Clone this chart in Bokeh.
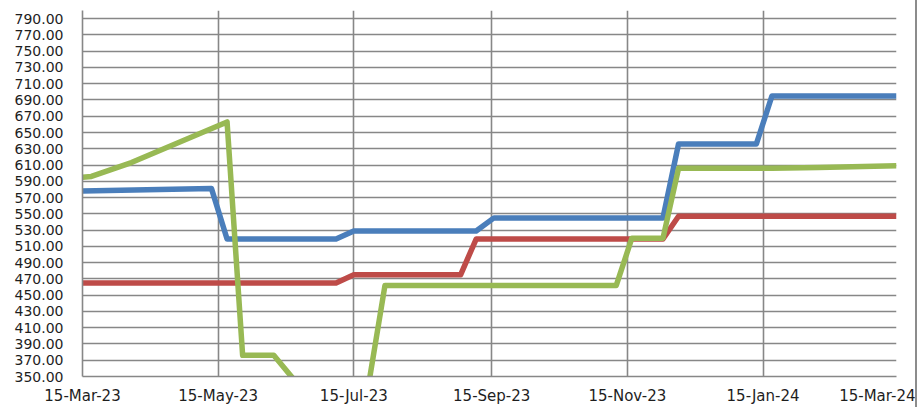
import calendar
import datetime as dt
from bokeh.plotting import figure
from bokeh.models import FixedTicker, PrintfTickFormatter, DatetimeTickFormatter, Range1d
from bokeh.embed import file_html
from bokeh.resources import INLINE

def d(s):
    return dt.datetime.strptime(s, "%Y-%m-%d")

def ms(s):
    return calendar.timegm(d(s).timetuple()) * 1000

# ---- data ----
blue_dates = ["2023-03-15", "2023-05-12", "2023-05-19", "2023-07-07", "2023-07-15",
              "2023-09-08", "2023-09-16", "2023-12-01", "2023-12-08", "2024-01-12",
              "2024-01-19", "2024-03-15"]
blue_values = [578, 581, 519, 519, 529, 529, 545, 545, 636, 636, 695, 695]

red_dates = ["2023-03-15", "2023-07-07", "2023-07-15", "2023-09-01", "2023-09-08",
             "2023-12-01", "2023-12-08", "2024-03-15"]
red_values = [465, 465, 475, 475, 519, 519, 547, 547]

green_dates = ["2023-03-15", "2023-03-19", "2023-04-06", "2023-05-19", "2023-05-26",
               "2023-06-09", "2023-06-23", "2023-07-15", "2023-07-22", "2023-07-29",
               "2023-11-10", "2023-11-17", "2023-12-01", "2023-12-08", "2024-01-19",
               "2024-02-09", "2024-03-15"]
green_values = [595, 596, 613, 663, 376, 376, 330, 330, 346, 462, 462, 520, 520, 606, 606,
                607, 609]

x_tick_dates = ["2023-03-15", "2023-05-15", "2023-07-15", "2023-09-15", "2023-11-15",
                "2024-01-15", "2024-03-15"]
y_ticks = list(range(350, 800, 20))
y_min, y_max = 350, 800

# ---- figure ----
p = figure(width=917, height=407, x_axis_type="datetime", output_backend="svg",
           toolbar_location=None,
           x_range=Range1d(d(x_tick_dates[0]), d(x_tick_dates[-1])),
           y_range=Range1d(y_min, y_max),
           min_border_left=82, min_border_right=21, min_border_top=10, min_border_bottom=29)
p.outline_line_color = None
p.background_fill_color = "white"
p.border_fill_color = "white"
p.styles = {"border-right": "2px solid #8c8c8c"}

grid_col = "#878787"
p.xaxis.ticker = FixedTicker(ticks=[ms(s) for s in x_tick_dates])
fmt = "%d-%b-%y"
p.xaxis.formatter = DatetimeTickFormatter(days=fmt, months=fmt, years=fmt, hours=fmt,
                                          hourmin=fmt, minutes=fmt)
p.yaxis.ticker = FixedTicker(ticks=y_ticks)
p.yaxis.formatter = PrintfTickFormatter(format="%.2f")

for ax in (p.xaxis, p.yaxis):
    ax.axis_line_color = grid_col
    ax.axis_line_width = 1.6
    ax.major_tick_line_color = None
    ax.minor_tick_line_color = None
    ax.major_tick_out = 0
    ax.major_label_text_font = "DejaVu Sans"
    ax.major_label_text_color = "#1e1e1e"
p.yaxis.major_label_text_font_size = "14px"
p.xaxis.major_label_text_font_size = "15px"
p.yaxis.major_label_standoff = 19
p.xaxis.major_label_standoff = 10

for g in (p.xgrid, p.ygrid):
    g.grid_line_color = grid_col
    g.grid_line_width = 1.6

p.line([d(s) for s in blue_dates], blue_values, line_color="#4A7EBB", line_width=5.5,
       line_join="round")
p.line([d(s) for s in red_dates], red_values, line_color="#BE4B48", line_width=5.5,
       line_join="round")
p.line([d(s) for s in green_dates], green_values, line_color="#98B954", line_width=5.5,
       line_join="round")

open("out.html", "w").write(file_html(p, INLINE))
